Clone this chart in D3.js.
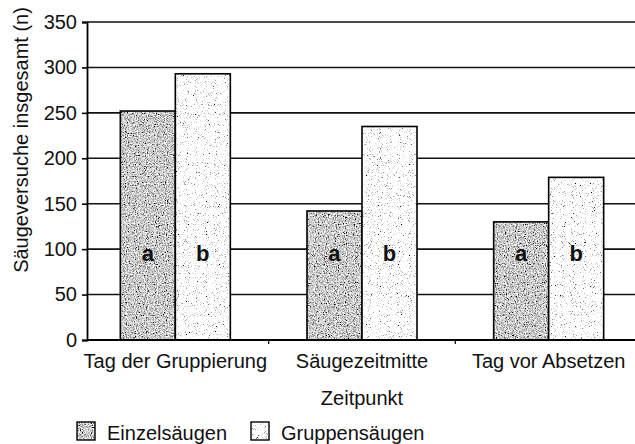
<!DOCTYPE html>
<html>
<head>
<meta charset="utf-8">
<script src="https://cdn.jsdelivr.net/npm/d3@7"></script>
<style>
  body { margin: 0; background: #fff; }
  svg { display: block; font-family: Arial, "Liberation Sans", sans-serif; }
</style>
</head>
<body>
<div id="chart"></div>
<script>
const categories = ["Tag der Gruppierung", "Säugezeitmitte", "Tag vor Absetzen"];
const series = ["Einzelsäugen", "Gruppensäugen"];
const einzelValues = [252, 142, 130];
const gruppenValues = [293, 235, 179];
const einzelLetters = ["a", "a", "a"];
const gruppenLetters = ["b", "b", "b"];
const yTicks = [0, 50, 100, 150, 200, 250, 300, 350];

const width = 635, height = 444;
const axisX = 87;
const plotTop = 22, plotBottom = 340;
const fontSize = 20;

const svg = d3.select("#chart").append("svg")
    .attr("width", width)
    .attr("height", height);

// scanned-print look: noisy fills
const defs = svg.append("defs");
function noiseFilter(id, freq, gain, offset, seed) {
    let f = defs.append("filter").attr("id", id)
        .attr("x", 0).attr("y", 0).attr("width", 1).attr("height", 1);
    f.append("feTurbulence").attr("type", "fractalNoise")
        .attr("baseFrequency", freq).attr("numOctaves", 2).attr("seed", seed).attr("result", "n");
    let row = `${gain} 0 0 0 ${offset}`;
    f.append("feColorMatrix").attr("in", "n").attr("type", "matrix")
        .attr("values", `${row} ${row} ${row} 0 0 0 0 1`).attr("result", "g");
    f.append("feComposite").attr("in", "g").attr("in2", "SourceGraphic").attr("operator", "in");
}
noiseFilter("darkNoise", 0.9, 2.3, -0.55, 4);
noiseFilter("lightNoise", 1.1, 4.5, -0.8, 9);
const fillFilter = { "Einzelsäugen": "url(#darkNoise)", "Gruppensäugen": "url(#lightNoise)" };

const x0 = d3.scaleBand().domain(categories).range([82, 642]);
const x1 = d3.scaleBand().domain(series).range([0, x0.bandwidth()]).paddingOuter(0.697);
const y = d3.scaleLinear().domain([0, 350]).range([plotBottom, plotTop]);

// gridlines
svg.append("g")
    .selectAll("line")
    .data(yTicks.filter(d => d > 0))
    .join("line")
    .attr("x1", axisX).attr("x2", width)
    .attr("y1", d => y(d)).attr("y2", d => y(d))
    .attr("stroke", "#111").attr("stroke-width", 1.6);

const rows = categories.map((c, i) => ({
    category: c,
    bars: [
        { key: "Einzelsäugen", value: einzelValues[i], letter: einzelLetters[i] },
        { key: "Gruppensäugen", value: gruppenValues[i], letter: gruppenLetters[i] }
    ]
}));

const groups = svg.append("g").selectAll("g")
    .data(rows)
    .join("g")
    .attr("transform", d => `translate(${x0(d.category)},0)`);

const bars = groups.selectAll("g")
    .data(d => d.bars)
    .join("g");

bars.append("rect")
    .attr("x", d => x1(d.key))
    .attr("y", d => y(d.value))
    .attr("width", x1.bandwidth())
    .attr("height", d => y(0) - y(d.value))
    .attr("fill", "#fff")
    .attr("filter", d => fillFilter[d.key]);

bars.append("rect")
    .attr("x", d => x1(d.key))
    .attr("y", d => y(d.value))
    .attr("width", x1.bandwidth())
    .attr("height", d => y(0) - y(d.value))
    .attr("fill", "none")
    .attr("stroke", "#000")
    .attr("stroke-width", 1.6);

bars.append("text")
    .attr("x", d => x1(d.key) + x1.bandwidth() / 2)
    .attr("y", y(100) + 12)
    .attr("text-anchor", "middle")
    .attr("font-size", 22)
    .attr("font-weight", "bold")
    .attr("fill", "#111")
    .text(d => d.letter);

// y axis
const yAxis = svg.append("g")
    .attr("transform", `translate(${axisX},0)`)
    .call(d3.axisLeft(y).tickValues(yTicks).tickSize(5).tickPadding(5));
yAxis.select(".domain").attr("stroke", "#000").attr("stroke-width", 1.8);
yAxis.selectAll(".tick line").attr("stroke", "#000").attr("stroke-width", 1.6);
yAxis.selectAll("text").attr("font-size", fontSize).attr("fill", "#111")
    .attr("font-family", "Arial, 'Liberation Sans', sans-serif");

// x axis
const xAxis = svg.append("g")
    .attr("transform", `translate(0,${plotBottom})`)
    .call(d3.axisBottom(x0).tickSize(0).tickPadding(14));
xAxis.select(".domain").attr("d", `M${axisX},0H${width}`).attr("stroke", "#000").attr("stroke-width", 1.8);
xAxis.selectAll("text").attr("font-size", fontSize).attr("fill", "#111")
    .attr("font-family", "Arial, 'Liberation Sans', sans-serif");
xAxis.selectAll(".boundary")
    .data(categories.slice(1))
    .join("line")
    .attr("class", "boundary")
    .attr("x1", d => x0(d)).attr("x2", d => x0(d))
    .attr("y1", 0).attr("y2", 4)
    .attr("stroke", "#000").attr("stroke-width", 1.2);

// axis titles
svg.append("text")
    .attr("x", (x0.range()[0] + x0.range()[1]) / 2)
    .attr("y", 405)
    .attr("text-anchor", "middle")
    .attr("font-size", fontSize)
    .attr("fill", "#111")
    .text("Zeitpunkt");

svg.append("text")
    .attr("transform", "translate(28,140) rotate(-90)")
    .attr("text-anchor", "middle")
    .attr("font-size", fontSize)
    .attr("fill", "#111")
    .text("Säugeversuche insgesamt (n)");

// legend
const legendX = [77, 251];
const legend = svg.append("g").selectAll("g")
    .data(series)
    .join("g")
    .attr("transform", (d, i) => `translate(${legendX[i]},422)`);
legend.append("rect")
    .attr("width", 18).attr("height", 18)
    .attr("fill", "#fff")
    .attr("filter", d => fillFilter[d]);
legend.append("rect")
    .attr("width", 18).attr("height", 18)
    .attr("fill", "none").attr("stroke", "#000").attr("stroke-width", 1.4);
legend.append("text")
    .attr("x", 30).attr("y", 18)
    .attr("font-size", fontSize)
    .attr("fill", "#111")
    .text(d => d);
</script>
</body>
</html>
